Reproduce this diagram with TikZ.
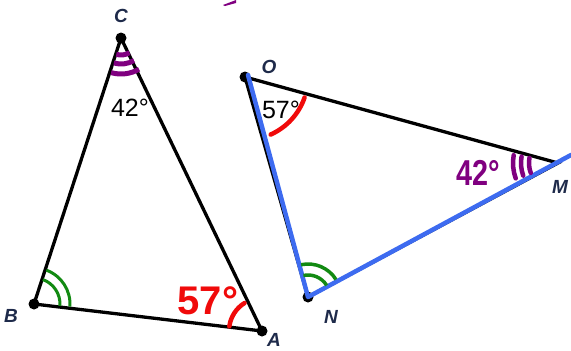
\documentclass[tikz,border=0pt]{standalone}
\usepackage{fontspec}
\setmainfont{Liberation Sans}
\definecolor{lbl}{HTML}{1E2A4A}
\definecolor{mpurple}{HTML}{800080}
\definecolor{mgreen}{HTML}{128A12}
\definecolor{mred}{HTML}{F00A0A}
\definecolor{mblue}{HTML}{3D6BF0}
\tikzset{
  vtx/.style={circle,fill=black,inner sep=0pt,minimum size=11pt},
  side/.style={line width=3.3pt,black},
  vlabel/.style={font=\bfseries\itshape\fontsize{19}{19}\selectfont,text=lbl,inner sep=0pt},
  typed/.style={font=\fontsize{25}{25}\selectfont,inner sep=0pt},
  marker/.style={line width=4.5pt,line cap=round},
  blueline/.style={line width=4.5pt,mblue,line cap=round,line join=round}
}
\begin{document}
\begin{tikzpicture}[x=1pt,y=-1pt]
\useasboundingbox (0,0) rectangle (571,351);
% vertices
\node[vtx] (C) at (121,38) {};
\node[vtx] (B) at (34,304) {};
\node[vtx] (A) at (262,331) {};
\node[vtx] (O) at (245,77) {};
\node[vtx] (N) at (308,297) {};
\coordinate (M) at (558,163);
\coordinate (E) at (571,155);
% sides
\draw[side] (C.center) -- (B.center) -- (A.center) -- cycle;
\draw[side] (O.center) -- (M) -- (N.center) -- cycle;
\draw[line width=3pt] (M) -- ++(6,-5);
% blue highlight
\draw[blueline] (O.center) ++(3,-2) coordinate (O2) -- (N.center) -- (E);
% labels
\node[vlabel] (lC) at (121,16) {C};
\node[vlabel] (lB) at (11,316) {B};
\node[vlabel] (lA) at (274,340) {A};
\node[vlabel] (lO) at (269,67) {O};
\node[vlabel] (lN) at (331,317) {N};
\node[vlabel] (lM) at (560,187) {M};
\node[typed] (t42) at (130,108) {42°};
\node[typed] (t57) at (281,110) {57°};
% angle marks at C (purple)
\foreach \r in {17,26,36} \draw[line width=5pt,mpurple,line cap=butt] (C.center) ++(-254:\r) arc[start angle=-254,end angle=-300,radius=\r];
% green at B
\foreach \r in {26,36} \draw[line width=3pt,mgreen] (B.center) ++(-70:\r) arc[start angle=-70,end angle=4,radius=\r];
% red at A
\draw[marker,mred] (A.center) ++(-122:33) arc[start angle=-122,end angle=-172,radius=33];
\node[font=\bfseries\fontsize{40}{40}\selectfont,text=mred,inner sep=0pt] (h57) at (208,301) {57°};
% red at O
\draw[marker,mred] (O.center) ++(19:63) arc[start angle=19,end angle=66,radius=63];
% green at N
\foreach \r in {22,33} \draw[line width=3.5pt,mgreen] (N.center) ++(-102:\r) arc[start angle=-102,end angle=-32,radius=\r];
% purple at M
\foreach \r in {29,37,45} \draw[marker,mpurple] (M) ++(-170:\r) arc[start angle=-170,end angle=-200,radius=\r];
\node[font=\bfseries\fontsize{36}{36}\selectfont,text=mpurple,inner sep=0pt,xscale=0.8] (h42) at (478,173) {42°};
% stray mark at top
\fill[mpurple] (223,5) -- (236,0) -- (236,3) -- (225,6) -- cycle;
\end{tikzpicture}
\end{document}
